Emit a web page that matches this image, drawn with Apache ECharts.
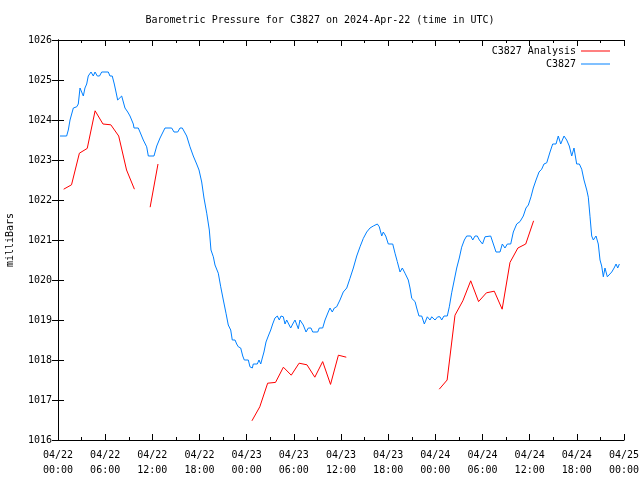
<!DOCTYPE html>
<html>
<head>
<meta charset="utf-8">
<script src="https://cdn.jsdelivr.net/npm/echarts@6/dist/echarts.min.js"></script>
<style>html,body{margin:0;padding:0;background:#fff}#c{width:640px;height:480px}</style>
</head>
<body>
<div id="c"></div>
<script>
// Hours since 2024-04-22 00:00 UTC
const stationHours = [0.25,1.1,1.31,1.53,1.95,2.38,2.58,2.8,3.01,3.22,3.43,3.65,3.85,4.2,4.49,4.71,5.0,5.28,5.56,6.4,6.61,6.9,7.16,7.38,7.59,7.82,8.1,8.31,8.52,8.87,9.16,9.58,9.67,10.21,10.43,10.85,11.28,11.49,12.21,12.56,12.98,13.61,14.46,14.76,15.23,15.52,15.81,16.37,16.79,17.21,17.64,17.94,18.28,18.57,18.92,19.25,19.46,19.76,19.97,20.39,20.7,21.03,21.37,21.66,21.97,22.17,22.52,22.73,22.94,23.24,23.5,23.7,24.21,24.42,24.72,24.84,25.35,25.57,25.79,25.99,26.2,26.46,26.75,27.06,27.31,27.6,27.9,28.15,28.37,28.66,28.88,29.09,29.3,29.6,29.86,30.15,30.36,30.57,30.78,31.0,31.2,31.55,31.84,32.18,32.4,33.04,33.24,33.67,33.97,34.38,34.6,34.89,35.15,35.45,35.87,36.29,36.73,37.14,37.57,38.0,38.42,38.84,39.27,39.69,40.11,40.62,40.87,41.18,41.38,41.69,42.02,42.58,42.87,43.16,43.51,43.8,44.14,44.56,44.78,45.0,45.42,45.63,45.92,46.27,46.6,46.98,47.32,47.54,47.96,48.3,48.59,48.81,49.1,49.52,49.78,50.08,50.41,50.72,51.05,51.35,51.69,51.99,52.5,52.76,53.05,53.34,53.6,54.0,54.32,54.54,55.04,55.38,55.72,56.23,56.52,56.86,57.16,57.59,57.92,58.35,58.77,59.19,59.53,59.83,60.17,60.46,60.81,61.19,61.53,61.82,62.17,62.59,62.93,63.35,63.64,63.95,64.37,64.71,65.04,65.35,65.64,65.98,66.32,66.62,66.91,67.26,67.46,67.68,67.89,68.1,68.44,68.73,68.95,69.16,69.37,69.58,69.88,70.13,70.44,70.74,70.99,71.2,71.41];
const stationValues = [1023.6,1023.6,1023.75,1024.0,1024.3,1024.33,1024.4,1024.8,1024.83,1024.6,1024.8,1024.9,1025.1,1025.2,1025.1,1025.2,1025.1,1025.1,1025.2,1025.2,1025.1,1025.1,1024.9,1024.7,1024.5,1024.5,1024.6,1024.55,1024.3,1024.2,1024.1,1023.9,1023.8,1023.8,1023.7,1023.5,1023.33,1023.1,1023.1,1023.35,1023.55,1023.8,1023.8,1023.7,1023.7,1023.8,1023.8,1023.6,1023.33,1023.1,1022.9,1022.75,1022.45,1022.05,1021.67,1021.25,1020.75,1020.58,1020.375,1020.17,1019.83,1019.5,1019.17,1018.875,1018.75,1018.5,1018.5,1018.4,1018.33,1018.3,1018.1,1018.0,1018.0,1017.83,1017.8,1017.9,1017.9,1018.0,1017.9,1018.05,1018.2,1018.45,1018.6,1018.75,1018.9,1019.05,1019.1,1019.0,1019.1,1019.08,1018.9,1019.0,1018.95,1018.8,1018.9,1019.0,1018.95,1018.78,1019.0,1019.0,1018.875,1018.7,1018.8,1018.8,1018.7,1018.7,1018.8,1018.8,1019.0,1019.2,1019.3,1019.2,1019.3,1019.33,1019.5,1019.7,1019.8,1020.04,1020.3,1020.6,1020.83,1021.04,1021.2,1021.3,1021.35,1021.4,1021.33,1021.1,1021.2,1021.1,1020.9,1020.9,1020.67,1020.46,1020.2,1020.3,1020.17,1020.0,1019.8,1019.54,1019.46,1019.3,1019.1,1019.1,1018.9,1019.08,1019.0,1019.08,1019.0,1019.08,1019.08,1019.0,1019.1,1019.1,1019.33,1019.68,1020.0,1020.3,1020.55,1020.82,1021.0,1021.1,1021.1,1021.0,1021.1,1021.1,1021.0,1020.9,1021.08,1021.1,1021.1,1020.9,1020.7,1020.7,1020.9,1020.8,1020.9,1020.9,1021.2,1021.4,1021.46,1021.6,1021.8,1021.875,1022.08,1022.3,1022.5,1022.7,1022.77,1022.9,1022.93,1023.2,1023.4,1023.4,1023.6,1023.4,1023.6,1023.5,1023.35,1023.1,1023.3,1022.9,1022.9,1022.77,1022.5,1022.25,1022.07,1021.58,1021.1,1021.0,1021.1,1020.9,1020.5,1020.35,1020.08,1020.3,1020.08,1020.08,1020.2,1020.3,1020.4,1020.3,1020.4];

const analysisHours = [0.72,1.72,2.72,3.72,4.72,5.72,6.72,7.72,8.72,9.72,10.72,11.72,12.72,13.72,
  24.67,25.67,26.67,27.67,28.67,29.67,30.67,31.67,32.67,33.67,34.67,35.67,36.67,37.67,
  48.5,49.5,50.5,51.5,52.5,53.5,54.5,55.5,56.5,57.5,58.5,59.5,60.5];
const analysisValues = [1022.27,1022.38,1023.17,1023.29,1024.23,1023.9,1023.88,1023.6,1022.75,1022.27,null,1021.82,1022.9,null,
  1016.48,1016.83,1017.42,1017.44,1017.82,1017.62,1017.92,1017.88,1017.57,1017.96,1017.39,1018.12,1018.07,null,
  1017.27,1017.5,1019.12,1019.48,1019.98,1019.46,1019.68,1019.72,1019.27,1020.44,1020.8,1020.9,1021.48];

const dayLabels = ['04/22','04/23','04/24','04/25'];

const FONT = 'DejaVu Sans Mono';
const chart = echarts.init(document.getElementById('c'), null, {renderer:'canvas'});

function xLabel(v){
  const d = Math.floor(v/24), h = v%24;
  return dayLabels[d] + '\n' + (h<10?'0':'') + h + ':00';
}

const axisLine = {show:true, lineStyle:{color:'#000', width:1}};
chart.setOption({
  animation:false,
  backgroundColor:'#fff',
  title:{text:'Barometric Pressure for C3827 on 2024-Apr-22 (time in UTC)', left:'center', top:10,
    textStyle:{fontFamily:FONT, fontSize:10, fontWeight:'normal', color:'#000'}},
  legend:[
    {data:['C3827 Analysis'], right:25, top:41, align:'right', orient:'vertical', icon:'rect', itemWidth:29, itemHeight:1,
      textStyle:{fontFamily:FONT, fontSize:10, color:'#000'}},
    {data:['C3827'], right:25, top:54, align:'right', orient:'vertical', icon:'rect', itemWidth:29, itemHeight:1,
      textStyle:{fontFamily:FONT, fontSize:10, color:'#000'}}
  ],
  grid:{left:58, right:16, top:40, bottom:40, containLabel:false, outerBoundsMode:'none'},
  xAxis:[
    {type:'value', min:0, max:72, interval:6, position:'bottom',
      axisLine, axisTick:{show:true, inside:true, length:6, lineStyle:{color:'#000'}},
      minorTick:{show:true, splitNumber:2, length:3, lineStyle:{color:'#000'}},
      splitLine:{show:false},
      axisLabel:{formatter:xLabel, fontFamily:FONT, fontSize:10, color:'#000', lineHeight:15, margin:8, showMinLabel:true, showMaxLabel:true, hideOverlap:false}},
    {type:'value', min:0, max:72, interval:6, position:'top',
      axisLine, axisTick:{show:true, inside:true, length:6, lineStyle:{color:'#000'}},
      minorTick:{show:true, splitNumber:2, length:3, lineStyle:{color:'#000'}},
      splitLine:{show:false}, axisLabel:{show:false}}
  ],
  yAxis:[
    {type:'value', min:1016, max:1026, interval:1, position:'left',
      name:'milliBars', nameLocation:'middle', nameGap:43, nameRotate:90,
      nameTextStyle:{fontFamily:FONT, fontSize:10, color:'#000'},
      axisLine, axisTick:{show:true, inside:true, length:6, lineStyle:{color:'#000'}},
      splitLine:{show:false},
      axisLabel:{formatter:v=>String(v), fontFamily:FONT, fontSize:10, color:'#000', margin:6}},
    {type:'value', min:1016, max:1026, interval:1, position:'right',
      axisLine, axisTick:{show:true, inside:true, length:6, lineStyle:{color:'#000'}},
      splitLine:{show:false}, axisLabel:{show:false}}
  ],
  series:[
    {name:'C3827 Analysis', type:'line', xAxisIndex:0, yAxisIndex:0, showSymbol:false, connectNulls:false,
      lineStyle:{color:'#ff0000', width:1}, itemStyle:{color:'#ff0000'},
      data: analysisHours.map((h,i)=>[h, analysisValues[i]])},
    {name:'C3827', type:'line', xAxisIndex:0, yAxisIndex:0, showSymbol:false,
      lineStyle:{color:'#0080ff', width:1}, itemStyle:{color:'#0080ff'},
      data: stationHours.map((h,i)=>[h, stationValues[i]])}
  ]
});
</script>
</body>
</html>
